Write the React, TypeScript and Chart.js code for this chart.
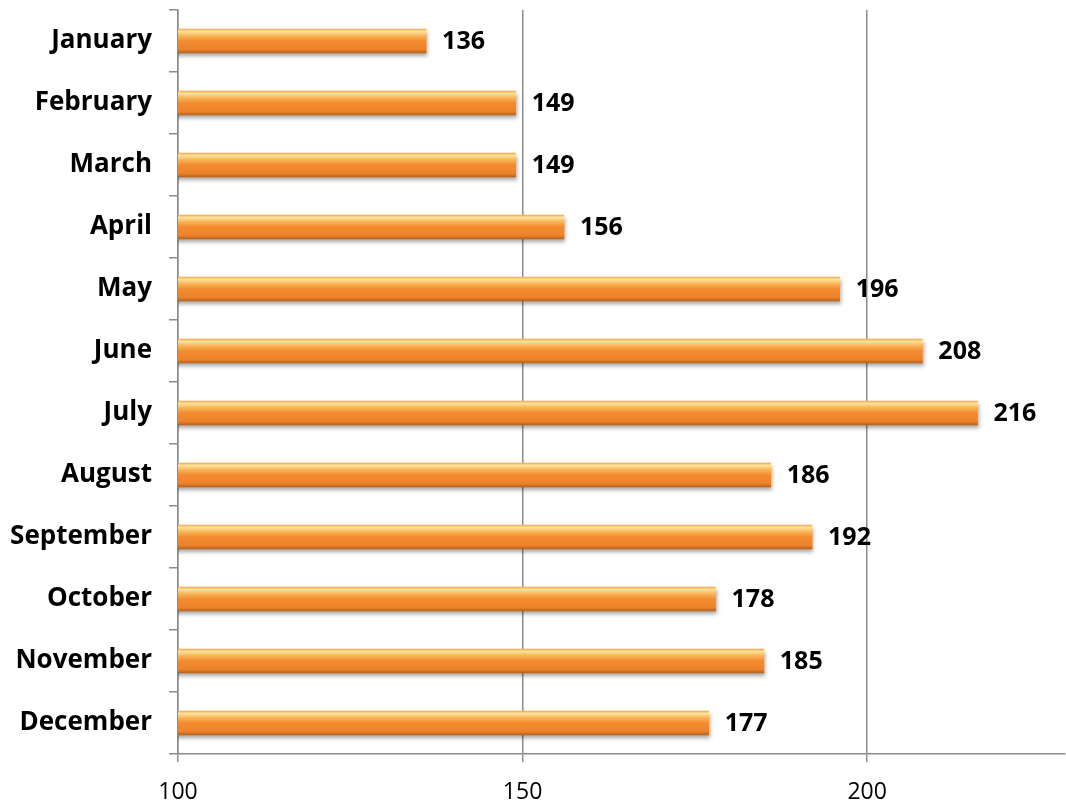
import React, { useEffect, useRef } from "react";
import { Chart, registerables } from "chart.js";

Chart.register(...registerables);

const months = [
  "January", "February", "March", "April", "May", "June",
  "July", "August", "September", "October", "November", "December",
];
const values = [136, 149, 149, 156, 196, 208, 216, 186, 192, 178, 185, 177];
const xMin = 100;
const xMax = 228.7;
const xStep = 50;

const FONT = "'Open Sans', 'Liberation Sans', sans-serif";
const BAR_T = 24;

const shadowPlugin = {
  id: "barShadow",
  beforeDatasetDraw(chart: any) {
    const ctx = chart.ctx;
    ctx.save();
    ctx.shadowColor = "rgba(0,0,0,0.35)";
    ctx.shadowBlur = 4;
    ctx.shadowOffsetX = 1;
    ctx.shadowOffsetY = 3;
  },
  afterDatasetDraw(chart: any) {
    chart.ctx.restore();
  },
};

const labelPlugin = {
  id: "valueLabels",
  afterDatasetsDraw(chart: any) {
    const ctx = chart.ctx;
    const meta = chart.getDatasetMeta(0);
    ctx.save();
    ctx.font = `bold 25px ${FONT}`;
    ctx.fillStyle = "#000";
    ctx.textAlign = "left";
    ctx.textBaseline = "middle";
    meta.data.forEach((el: any, i: number) => {
      ctx.fillText(String(values[i]), el.x + 16, el.y + 1);
    });
    ctx.restore();
  },
};

export default function App() {
  const ref = useRef<HTMLCanvasElement>(null);
  useEffect(() => {
    const canvas = ref.current!;
    const chart = new Chart(canvas, {
      type: "bar",
      data: {
        labels: months,
        datasets: [
          {
            data: values,
            barThickness: BAR_T,
            borderWidth: 0,
            backgroundColor: (c: any) => {
              const ch = c.chart;
              const y = ch.scales?.y;
              if (!y || c.dataIndex === undefined) return "#f28a2c";
              const cy = y.getPixelForValue(c.dataIndex);
              if (!isFinite(cy)) return "#f28a2c";
              const g = ch.ctx.createLinearGradient(0, cy - BAR_T / 2, 0, cy + BAR_T / 2);
              g.addColorStop(0, "#f5a850");
              g.addColorStop(0.1, "#fde39a");
              g.addColorStop(0.28, "#f9b55a");
              g.addColorStop(0.5, "#f38c30");
              g.addColorStop(0.85, "#ec832b");
              g.addColorStop(1, "#b9621c");
              return g;
            },
          },
        ],
      },
      options: {
        indexAxis: "y",
        responsive: false,
        animation: false,
        layout: { padding: { top: 10, right: 1, left: 0, bottom: 0 } },
        plugins: {
          legend: { display: false },
          tooltip: { enabled: false },
        },
        scales: {
          x: {
            type: "linear",
            min: xMin,
            max: xMax,
            afterFit: (s: any) => { s.height = 46; s.paddingLeft = 0; s.paddingRight = 0; },
            ticks: {
              stepSize: xStep,
              includeBounds: false,
              color: "#000",
              font: { family: FONT, size: 23 },
              padding: 17,
            },
            grid: { color: "#8c8c8c", lineWidth: 1.5, tickLength: 8 },
            border: { color: "#8c8c8c", width: 1.5 },
          },
          y: {
            afterFit: (s: any) => { s.width = 178; s.paddingTop = 0; s.paddingBottom = 0; },
            ticks: {
              color: "#000",
              font: { family: FONT, size: 26, weight: "bold" },
              padding: 17,
            },
            grid: { drawOnChartArea: false, color: "#8c8c8c", lineWidth: 1.5, tickLength: 9 },
            border: { color: "#8c8c8c", width: 1.5 },
          },
        },
      },
      plugins: [shadowPlugin, labelPlugin],
    });
    return () => chart.destroy();
  }, []);
  return (
    <div style={{ position: "absolute", left: 0, top: 0, width: 1066, height: 800, background: "#fff" }}>
      <canvas ref={ref} width={1066} height={800} style={{ display: "block" }} />
    </div>
  );
}
